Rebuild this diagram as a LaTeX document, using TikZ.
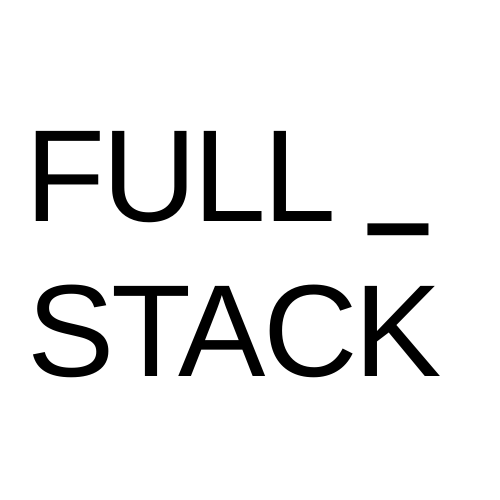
\documentclass[tikz,border=0pt]{standalone}
\usepackage{fontspec}
\setsansfont[LetterSpace=-2.3]{Liberation Sans}
\usetikzlibrary{positioning}
\tikzset{
    font=\sffamily,
    % title words
    wordNode/.style={
        inner sep=0pt, anchor=base west, text=black,
        font=\sffamily\fontsize{131}{131}\selectfont
    }
}
% raised, flatter underscore
\newcommand{\baseBar}{\raisebox{22.9pt}{\scalebox{0.8}[1.43]{\_}}}
\begin{document}
\begin{tikzpicture}[x=1pt, y=-1pt]

	% page frame
	\useasboundingbox[fill=white] (0,0) rectangle (500,500);

	% 1. first line
	\node[wordNode] (full) at (25,221) {FULL \baseBar};

	% 2. second line
	\node[wordNode] (stack) at (27,376) {STACK};

\end{tikzpicture}
\end{document}
